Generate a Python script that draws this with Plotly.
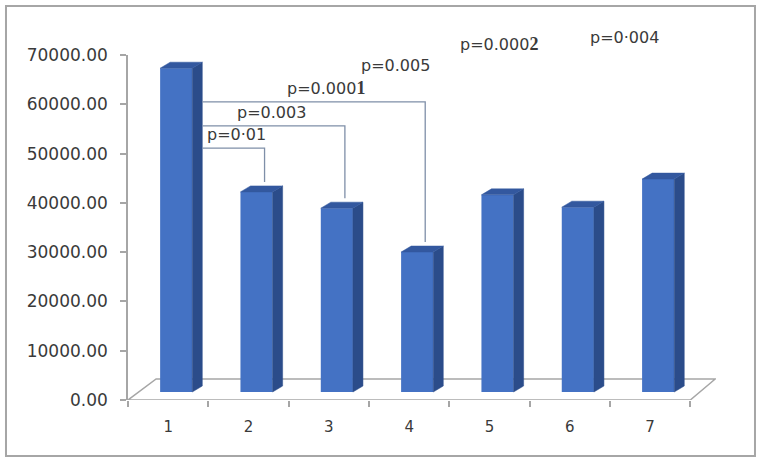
import plotly.graph_objects as go

# ---- data ----
categories = [1, 2, 3, 4, 5, 6, 7]
values = [65700, 40600, 37300, 28400, 40000, 37500, 43200]
ytick_vals = [0, 10000, 20000, 30000, 40000, 50000, 60000, 70000]
ytick_text = ["0.00", "10000.00", "20000.00", "30000.00", "40000.00",
              "50000.00", "60000.00", "70000.00"]
# bracket comparisons: (from, to, height)
brackets = [(1, 2, 51100), (1, 3, 55600), (1, 4, 60500)]
SERIF = "<span style='font-family:Liberation Serif;font-size:18px'><b>%s</b></span>"
p_labels = ["p=0·01", "p=0.003", "p=0.000" + SERIF % "1", "p=0.005",
            "p=0.000" + SERIF % "2", "p=0·004"]
# (x, y, xanchor, yref)
p_label_pos = [(1.46, 53800, "left", "y"), (1.83, 58400, "left", "y"),
               (2.45, 63300, "left", "y"), (3.83, 67800, "center", "y"),
               (5.12, 1.032, "center", "paper"), (6.68, 1.052, "center", "paper")]

# ---- style / geometry ----
FRONT = "#4472C4"
SIDE = "#2B4C8A"
TOP = "#33589F"
GRAY = "#A6A6A6"
TXT = "#3A3A3A"
BASE = 1620          # bars sit mid-depth on the floor
BAR_OFF, BAR_W = -0.1, 0.4
SD, SH = 0.125, 1220  # bar depth (x units, y units)
FLOOR_DX_L, FLOOR_DX_R, FLOOR_DY = 0.35, 0.31, 4260
FONT = "DejaVu Sans"

fig = go.Figure()

# floor (shape below traces)
fx = [0.5, 7.5, 7.5 + FLOOR_DX_R, 0.5 + FLOOR_DX_L]
fy = [0, 0, FLOOR_DY, FLOOR_DY]
path = "M " + " L ".join(f"{x},{y}" for x, y in zip(fx, fy)) + " Z"
fig.add_shape(type="path", xref="x", yref="y", path=path, fillcolor="white",
              line=dict(color=GRAY, width=1.5), layer="below")

# side faces and tops, computed from data
sx, sy, tx, ty = [], [], [], []
for c, v in zip(categories, values):
    r = c + BAR_OFF + BAR_W
    l = c + BAR_OFF
    top = BASE + v
    sx += [r, r, r + SD, r + SD, r, None]
    sy += [BASE, top, top + SH, BASE + SH, BASE, None]
    tx += [l, r, r + SD, l + SD, l, None]
    ty += [top, top, top + SH, top + SH, top, None]
fig.add_trace(go.Scatter(x=sx, y=sy, mode="lines", fill="toself", fillcolor=SIDE,
                         line=dict(color=SIDE, width=0.5), hoverinfo="skip", showlegend=False))
fig.add_trace(go.Scatter(x=tx, y=ty, mode="lines", fill="toself", fillcolor=TOP,
                         line=dict(color=TOP, width=0.5), hoverinfo="skip", showlegend=False))

# brackets
bx, by = [], []
start_x = 1 + BAR_OFF + BAR_W + SD
for a, b, h in brackets:
    end_x = b + 0.2
    end_y = BASE + values[b - 1] + SH + 800
    bx += [start_x, end_x, end_x, None]
    by += [h, h, end_y, None]
fig.add_trace(go.Scatter(x=bx, y=by, mode="lines", line=dict(color="#7F8FA8", width=1.3),
                         hoverinfo="skip", showlegend=False))

# front faces
fig.add_trace(go.Bar(x=categories, y=values, base=BASE, width=BAR_W, offset=BAR_OFF,
                     marker=dict(color=FRONT, line=dict(width=0)), hoverinfo="skip",
                     showlegend=False))

for txt, (x, y, anc, yr) in zip(p_labels, p_label_pos):
    fig.add_annotation(x=x, y=y, xref="x", yref=yr, text=txt, showarrow=False,
                       xanchor=anc, yanchor="middle",
                       font=dict(family=FONT, size=16, color=TXT))

# chart border
fig.add_shape(type="rect", xref="paper", yref="paper", x0=-0.2075, x1=1.0663,
              y0=-0.1623, y1=1.142, line=dict(color=GRAY, width=2), layer="below")

fig.update_layout(
    template="none",
    width=763, height=464,
    margin=dict(l=128, r=47, t=55, b=64, pad=0),
    paper_bgcolor="white", plot_bgcolor="white",
    barmode="overlay",
    hovermode=False,
    xaxis=dict(range=[0.5, 7.82], tickvals=categories, ticktext=[str(c) for c in categories],
               automargin=False, fixedrange=True,
               showgrid=False, zeroline=False, showline=False, ticks="",
               ticklabelstandoff=16,
               tickfont=dict(family=FONT, size=15, color=TXT),
               minor=dict(tick0=0.5, dtick=1, ticks="outside", ticklen=6,
                          tickcolor=GRAY, tickwidth=1.5, showgrid=False)),
    yaxis=dict(range=[0, 70000], tickvals=ytick_vals, ticktext=ytick_text,
               automargin=False, fixedrange=True,
               showgrid=False, zeroline=False, showline=True, linecolor=GRAY, linewidth=1.5,
               ticks="outside", ticklen=6, tickcolor=GRAY, tickwidth=1.5,
               ticklabelstandoff=9,
               tickfont=dict(family=FONT, size=17, color=TXT)),
)

fig.write_html("out.html", config={"displayModeBar": False},
               post_script="document.body.style.margin='0';")
